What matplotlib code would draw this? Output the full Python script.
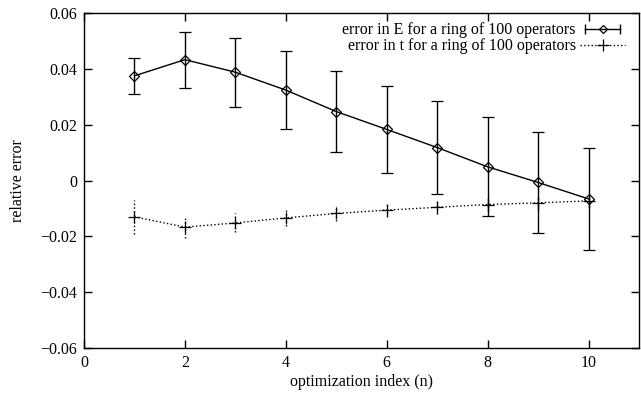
import matplotlib
matplotlib.use("Agg")
import matplotlib.pyplot as plt
from matplotlib.lines import Line2D
from matplotlib.legend_handler import HandlerLine2D, HandlerTuple
from matplotlib.ticker import FuncFormatter

plt.rcParams['font.family'] = ['Liberation Serif', 'DejaVu Serif']
plt.rcParams['font.size'] = 11.5

n = [1, 2, 3, 4, 5, 6, 7, 8, 9, 10]
errE = [0.0375, 0.0433, 0.0388, 0.0324, 0.0247, 0.0183, 0.0118, 0.0049, -0.0007, -0.0066]
errE_err = [0.0064, 0.0100, 0.0124, 0.0140, 0.0146, 0.0155, 0.0166, 0.0177, 0.0180, 0.0182]
errT = [-0.0130, -0.0167, -0.0152, -0.0134, -0.0118, -0.0106, -0.0096, -0.0086, -0.0080, -0.0073]
errT_err = [0.0060, 0.0040, 0.0034, 0.0030, 0.0026, 0.0024, 0.0023, 0.0024, 0.0024, 0.0022]
labels = ["error in E for a ring of 100 operators",
          "error in t for a ring of 100 operators"]

fig = plt.figure(figsize=(6.41, 3.95), dpi=100)
ax = fig.add_axes([0.131, 0.119, 0.866, 0.848])

ax.errorbar(n, errE, yerr=errE_err, color='black', lw=1, marker='D', ms=5,
            mfc='none', mec='black', mew=0.9, capsize=4, elinewidth=1)
eb = ax.errorbar(n, errT, yerr=errT_err, color='black', lw=1, ls=':', marker='+',
                 ms=8, mew=0.9, capsize=0, elinewidth=1)
eb[2][0].set_linestyle(':')

ax.set_xlim(0, 11)
ax.set_ylim(-0.06, 0.06)
ax.set_xticks([0, 2, 4, 6, 8, 10])
ax.set_yticks([-0.06, -0.04, -0.02, 0, 0.02, 0.04, 0.06])
ax.yaxis.set_major_formatter(FuncFormatter(lambda v, p: ('%g' % round(v, 3)).replace('-', '\u2212')))
ax.tick_params(direction='in', length=6, width=1, top=True, right=True, pad=5)
for s in ax.spines.values():
    s.set_linewidth(1)

ax.set_xlabel("optimization index (n)", labelpad=2)
ax.set_ylabel("relative error", labelpad=10)

# gnuplot-style legend keys: horizontal bar with end caps
caps = Line2D([], [], color='black', lw=1, marker='|', ms=7, mew=1)
diam = Line2D([], [], color='black', ls='none', marker='D', ms=4.5, mfc='none', mew=0.9)
hT = Line2D([], [], color='black', lw=1, ls=':', marker='+', ms=8, mew=0.9)
ax.legend([(caps, diam), hT], labels, loc='upper right', bbox_to_anchor=(0.975, 0.972),
          frameon=False, markerfirst=False, handlelength=2.8, borderpad=0,
          borderaxespad=0, labelspacing=0.0, handletextpad=0.3,
          handler_map={caps: HandlerLine2D(numpoints=2),
                       tuple: HandlerTuple(ndivide=1, pad=0)})

fig.savefig("out.png", dpi=100)
